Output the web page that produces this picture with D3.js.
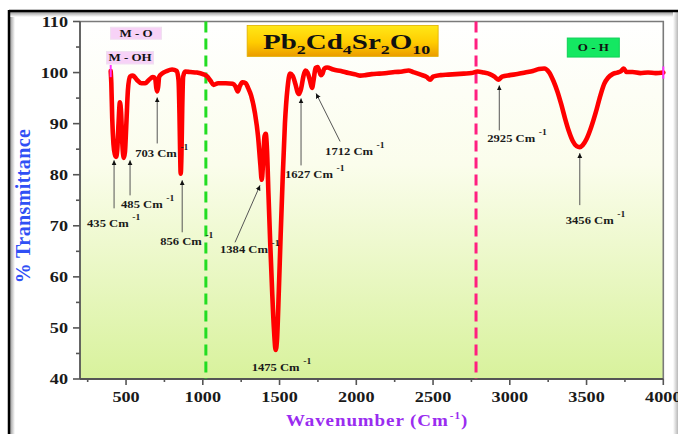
<!DOCTYPE html>
<html>
<head>
<meta charset="utf-8">
<script src="https://cdn.jsdelivr.net/npm/d3@7"></script>
<style>
  html, body { margin: 0; padding: 0; background: #ffffff; }
  svg { display: block; }
  text { font-family: "Liberation Serif", "Times New Roman", serif; font-weight: bold; }
</style>
</head>
<body>
<svg id="chart" width="678" height="434"></svg>
<script>
// FTIR spectrum of Pb2Cd4Sr2O10 (wavenumber in cm^-1, % transmittance)
const wavenumber = [
  400, 404, 410, 418, 427, 435, 443, 451, 460, 468, 476, 485, 493, 502, 512, 525, 545, 570, 600, 625,
  650, 675, 690, 697, 703, 709, 716, 735, 765, 800, 830, 842, 848, 852, 856, 861, 866, 872, 885, 920,
  960, 1000, 1030, 1050, 1070, 1100, 1150, 1195, 1212, 1228, 1242, 1258, 1280, 1295, 1315, 1340, 1360, 1375, 1384, 1393,
  1402, 1410, 1418, 1428, 1440, 1452, 1463, 1475, 1484, 1495, 1507, 1520, 1535, 1552, 1568, 1585, 1603, 1617, 1627, 1640,
  1655, 1668, 1682, 1697, 1712, 1722, 1735, 1748, 1760, 1770, 1780, 1792, 1810, 1850, 1900, 1950, 2000, 2025, 2060, 2100,
  2150, 2200, 2250, 2300, 2340, 2370, 2420, 2460, 2481, 2500, 2550, 2600, 2650, 2700, 2750, 2790, 2830, 2870, 2900, 2925,
  2950, 3000, 3050, 3100, 3150, 3190, 3225, 3255, 3285, 3310, 3335, 3360, 3385, 3410, 3435, 3456, 3475, 3500, 3530, 3560,
  3590, 3615, 3640, 3670, 3700, 3725, 3742, 3760, 3800, 3850, 3900, 3950, 4000
];
const transmittance = [
  100.3, 98, 91, 86, 84, 83.5, 85, 90, 94.2, 92, 86, 83.3, 84.5, 90, 96.5, 99.2, 99.4, 98.6, 97.9, 97.9,
  98.6, 99.1, 98.8, 97, 96.3, 97.2, 99.2, 99.8, 100.3, 100.6, 100.3, 98.5, 92, 85, 80.2, 84, 93, 99.2, 100.2, 100.1,
  100, 99.7, 99.2, 98.4, 97.6, 97.9, 97.9, 97.8, 97.3, 96.3, 97.4, 98.1, 97.9, 97, 95.5, 92, 87.5, 82, 79, 82.5,
  87.5, 88, 85, 76, 66, 57, 50, 45.7, 48, 57, 68, 79, 90, 97, 99.8, 99.4, 97.8, 96.2, 95.8, 96.8,
  99.2, 100.4, 100, 98.6, 97, 98.6, 100.9, 101.1, 100.2, 99.5, 99.8, 100.8, 101, 100.6, 100.3, 99.9, 99.6, 99.4, 99.5, 99.7,
  99.8, 99.9, 100.1, 100.2, 100.4, 100.1, 99.6, 99.1, 98.6, 99.2, 99.5, 99.6, 99.7, 99.8, 99.9, 100.2, 100, 99.7, 99.2, 98.6,
  99.2, 99.5, 99.7, 100, 100.3, 100.7, 100.8, 100.1, 98.3, 96.3, 93.8, 91, 88.5, 86.6, 85.6, 85.4, 85.8, 87, 89.3, 92.2,
  95.5, 97.8, 99, 99.7, 100, 100.3, 100.8, 100.1, 100.1, 99.9, 100, 99.9, 100
];

// Axis ticks
const xMajorTicks = [500, 1000, 1500, 2000, 2500, 3000, 3500, 4000];
const xMinorTicks = [250, 750, 1250, 1750, 2250, 2750, 3250, 3750];
const yMajorTicks = [40, 50, 60, 70, 80, 90, 100, 110];
const yMinorTicks = [45, 55, 65, 75, 85, 95, 105];

// Labelled absorption bands
const peakWavenumbers = [435, 485, 703, 856, 1384, 1475, 1627, 1712, 2925, 3456];
const peakUnit = "Cm";
const peakUnitExp = "-1";

// Region dividers and group labels
const dividerWavenumbers = [1020, 2780];
const groupLabels = ["M - O", "M - OH", "O - H"];
const formulaParts = [["Pb", "2"], ["Cd", "4"], ["Sr", "2"], ["O", "10"]];
const xTitle = "Wavenumber (Cm";
const xTitleExp = "-1";
const yTitle = "% Transmittance";

// ---------------------------------------------------------------------------
const svg = d3.select("#chart");
const W = 678, H = 434;
const plot = { left: 80, right: 663.3, top: 21.5, bottom: 379 };

const x = d3.scaleLinear().domain([200, 4000]).range([plot.left, plot.right]);
const y = d3.scaleLinear().domain([40, 110]).range([plot.bottom, plot.top]);

const defs = svg.append("defs");
const bg = defs.append("linearGradient").attr("id", "plotBg")
  .attr("x1", 0).attr("y1", 0).attr("x2", 0).attr("y2", 1);
bg.append("stop").attr("offset", "0%").attr("stop-color", "#ffffff");
bg.append("stop").attr("offset", "40%").attr("stop-color", "#fbfdec");
bg.append("stop").attr("offset", "100%").attr("stop-color", "#d8f29c");

const gold = defs.append("linearGradient").attr("id", "goldBox")
  .attr("x1", 0).attr("y1", 0).attr("x2", 0).attr("y2", 1);
gold.append("stop").attr("offset", "0%").attr("stop-color", "#ffe818");
gold.append("stop").attr("offset", "55%").attr("stop-color", "#ffcc00");
gold.append("stop").attr("offset", "100%").attr("stop-color", "#eb9c00");

const shadeL = defs.append("linearGradient").attr("id", "shadeL")
  .attr("x1", 0).attr("y1", 0).attr("x2", 1).attr("y2", 0);
shadeL.append("stop").attr("offset", "0%").attr("stop-color", "#9a9a9a");
shadeL.append("stop").attr("offset", "100%").attr("stop-color", "#ffffff");
const shadeT = defs.append("linearGradient").attr("id", "shadeT")
  .attr("x1", 0).attr("y1", 0).attr("x2", 0).attr("y2", 1);
shadeT.append("stop").attr("offset", "0%").attr("stop-color", "#9a9a9a");
shadeT.append("stop").attr("offset", "100%").attr("stop-color", "#ffffff");
const shadeR = defs.append("linearGradient").attr("id", "shadeR")
  .attr("x1", 0).attr("y1", 0).attr("x2", 1).attr("y2", 0);
shadeR.append("stop").attr("offset", "0%").attr("stop-color", "#ffffff");
shadeR.append("stop").attr("offset", "100%").attr("stop-color", "#b8b8b8");

defs.append("marker").attr("id", "arrowHead")
  .attr("viewBox", "0 0 10 10").attr("refX", 10).attr("refY", 5)
  .attr("markerWidth", 5).attr("markerHeight", 6).attr("markerUnits", "userSpaceOnUse")
  .attr("orient", "auto")
  .append("path").attr("d", "M0,0 L10,5 L0,10 Z").attr("fill", "#111");

// Outer frame with soft inner shading
svg.append("rect").attr("x", 10).attr("y", 12).attr("width", 5).attr("height", H - 12).attr("fill", "url(#shadeL)");
svg.append("rect").attr("x", 10).attr("y", 12).attr("width", W - 10).attr("height", 5).attr("fill", "url(#shadeT)");
svg.append("rect").attr("x", W - 5).attr("y", 12).attr("width", 5).attr("height", H - 12).attr("fill", "url(#shadeR)");
svg.append("line").attr("x1", 9).attr("x2", W).attr("y1", 11).attr("y2", 11).attr("stroke", "#000").attr("stroke-width", 2.5);
svg.append("line").attr("x1", 9).attr("x2", 9).attr("y1", 10).attr("y2", H).attr("stroke", "#000").attr("stroke-width", 2.5);

// Plot background
svg.append("rect")
  .attr("x", plot.left).attr("y", plot.top)
  .attr("width", plot.right - plot.left).attr("height", plot.bottom - plot.top)
  .attr("fill", "url(#plotBg)");

// Top and right border
svg.append("path")
  .attr("d", `M${plot.left},${plot.top} H${plot.right} V${plot.bottom}`)
  .attr("fill", "none").attr("stroke", "#7a7a7a").attr("stroke-width", 1.6);

// Stretched text helper (glyphs are wide in this layout)
function wideText(parent, px, py, str, size, sx, anchor, color) {
  return parent.append("text")
    .attr("transform", `translate(${px},${py}) scale(${sx},1)`)
    .attr("text-anchor", anchor || "start")
    .attr("font-size", size)
    .attr("fill", color || "#111")
    .text(str);
}

// Axes
const axisColor = "#555";
const gx = svg.append("g");
gx.append("line").attr("x1", plot.left).attr("x2", plot.right)
  .attr("y1", plot.bottom).attr("y2", plot.bottom).attr("stroke", axisColor).attr("stroke-width", 1.8);
gx.selectAll(".xmaj").data(xMajorTicks).join("line")
  .attr("x1", d => x(d)).attr("x2", d => x(d))
  .attr("y1", plot.bottom).attr("y2", plot.bottom + 6)
  .attr("stroke", axisColor).attr("stroke-width", 1.6);
gx.selectAll(".xmin").data(xMinorTicks).join("line")
  .attr("x1", d => x(d)).attr("x2", d => x(d))
  .attr("y1", plot.bottom).attr("y2", plot.bottom + 3)
  .attr("stroke", axisColor).attr("stroke-width", 1.6);
xMajorTicks.forEach(t => wideText(gx, x(t), 402, String(t), 14, 1.3, "middle", "#1a1a1a"));

const gy = svg.append("g");
gy.append("line").attr("x1", plot.left).attr("x2", plot.left)
  .attr("y1", plot.top).attr("y2", plot.bottom).attr("stroke", axisColor).attr("stroke-width", 1.8);
gy.selectAll(".ymaj").data(yMajorTicks).join("line")
  .attr("x1", plot.left - 7).attr("x2", plot.left)
  .attr("y1", d => y(d)).attr("y2", d => y(d))
  .attr("stroke", axisColor).attr("stroke-width", 1.6);
gy.selectAll(".ymin").data(yMinorTicks).join("line")
  .attr("x1", plot.left - 4).attr("x2", plot.left)
  .attr("y1", d => y(d)).attr("y2", d => y(d))
  .attr("stroke", axisColor).attr("stroke-width", 1.6);
yMajorTicks.forEach(t => wideText(gy, 68, y(t) + 5, String(t), 14, 1.3, "end", "#1a1a1a"));

// Axis titles
const xt = svg.append("text")
  .attr("transform", `translate(377,426) scale(1.12,1)`)
  .attr("text-anchor", "middle").attr("font-size", 17).attr("letter-spacing", 0.8)
  .attr("fill", "#9a2cf0");
xt.append("tspan").text(xTitle);
xt.append("tspan").attr("font-size", 10).attr("dy", -7).attr("dx", 1).text(xTitleExp);
xt.append("tspan").attr("dy", 7).text(")");

svg.append("text")
  .attr("transform", `translate(30,206) rotate(-90)`)
  .attr("text-anchor", "middle").attr("font-size", 20).attr("letter-spacing", 0.4)
  .attr("fill", "#3050f5")
  .text(yTitle);

// Region dividers
svg.selectAll(".divider").data(dividerWavenumbers).join("line")
  .attr("x1", d => x(d)).attr("x2", d => x(d))
  .attr("y1", plot.top).attr("y2", plot.bottom)
  .attr("stroke", (d, i) => i === 0 ? "#22dd22" : "#ff1f80")
  .attr("stroke-width", 3)
  .attr("stroke-dasharray", "11,6");

// Spectrum
const spectrum = wavenumber.map((w, i) => ({ w, t: transmittance[i] }));
const line = d3.line().x(d => x(d.w)).y(d => y(d.t)).curve(d3.curveMonotoneX);
svg.append("path").datum(spectrum)
  .attr("d", line)
  .attr("fill", "none").attr("stroke", "#ff0000")
  .attr("stroke-width", 4.6).attr("stroke-linejoin", "round").attr("stroke-linecap", "round");

// End markers of the scan
const first = spectrum[0], last = spectrum[spectrum.length - 1];
[first, last].forEach(d => {
  svg.append("line")
    .attr("x1", x(d.w)).attr("x2", x(d.w))
    .attr("y1", y(d.t + 1.2)).attr("y2", y(d.t - 1.2))
    .attr("stroke", "#ff33ff").attr("stroke-width", 2);
});

// Peak annotations: [head dx, head gap below curve, tail dx, tail dy, label dx, label dy, arrow?]
const annotLayout = [
  [-2, 3.5, 0, 48, -27, 67, true],
  [6.3, 2.5, 0, 35, -9, 48, true],
  [0, 6, 0, 46, -22, 60, true],
  [1.5, 6.6, 0, 52, -22, 65, true],
  [-1.7, 5.5, -25, 57, -40, 68, true],
  [0, 0, 0, 0, -24, 21, false],
  [2, 4.4, 0, 67, -16, 80, true],
  [4, 5.5, 24, 48, 9, 62, true],
  [1, 5.7, 0, 45, -12, 57, true],
  [0, 6, 0, 52, -14, 71, true]
];
const gAnn = svg.append("g");
peakWavenumbers.forEach((w, i) => {
  const idx = wavenumber.indexOf(w);
  const tv = transmittance[idx];
  const L = annotLayout[i];
  const hx = x(w) + L[0], hy = y(tv) + L[1];
  if (L[6]) {
    gAnn.append("line")
      .attr("x1", hx + L[2]).attr("y1", hy + L[3])
      .attr("x2", hx).attr("y2", hy)
      .attr("stroke", "#555").attr("stroke-width", 1)
      .attr("marker-end", "url(#arrowHead)");
  }
  const t = gAnn.append("text")
    .attr("transform", `translate(${hx + L[4]},${hy + L[5]}) scale(1.2,1)`)
    .attr("font-size", 10.5).attr("fill", "#1a1a1a");
  t.append("tspan").text(`${w} ${peakUnit}`);
  t.append("tspan").attr("font-size", 8).attr("dx", 3).attr("dy", -7).text(peakUnitExp);
});

// Group label boxes (centred on spectral positions)
const groupBoxes = [
  { w: 565, t: 107.7, bw: 51, bh: 12, fill: "#f7d2f7", stroke: "#f0e0f0" },
  { w: 526, t: 102.9, bw: 47, bh: 12.5, fill: "#f7d2f7", stroke: "#f0e0f0" },
  { w: 3544, t: 104.9, bw: 52, bh: 19, fill: "#14e862", stroke: "#10d058" }
];
groupLabels.forEach((lab, i) => {
  const b = groupBoxes[i];
  const cx = x(b.w), cy = y(b.t);
  svg.append("rect")
    .attr("x", cx - b.bw / 2).attr("y", cy - b.bh / 2)
    .attr("width", b.bw).attr("height", b.bh)
    .attr("fill", b.fill).attr("stroke", b.stroke).attr("stroke-width", 1);
  wideText(svg, cx, cy + 3.5, lab, 10, 1.3, "middle", "#111");
});

// Compound label
const fcx = x(1911), fcy = y(106.2);
svg.append("rect")
  .attr("x", fcx - 95.5).attr("y", fcy - 15.5)
  .attr("width", 191).attr("height", 31)
  .attr("fill", "url(#goldBox)")
  .attr("stroke", "#e0b000").attr("stroke-width", 0.8);
const ft = svg.append("text")
  .attr("transform", `translate(${fcx + 4},${fcy + 8}) scale(1.38,1)`)
  .attr("text-anchor", "middle").attr("font-size", 21).attr("fill", "#111");
formulaParts.forEach(([el, n], i) => {
  ft.append("tspan").attr("dy", i === 0 ? 0 : -5).text(el);
  ft.append("tspan").attr("font-size", 13).attr("dy", 5).text(n);
});
</script>
</body>
</html>
